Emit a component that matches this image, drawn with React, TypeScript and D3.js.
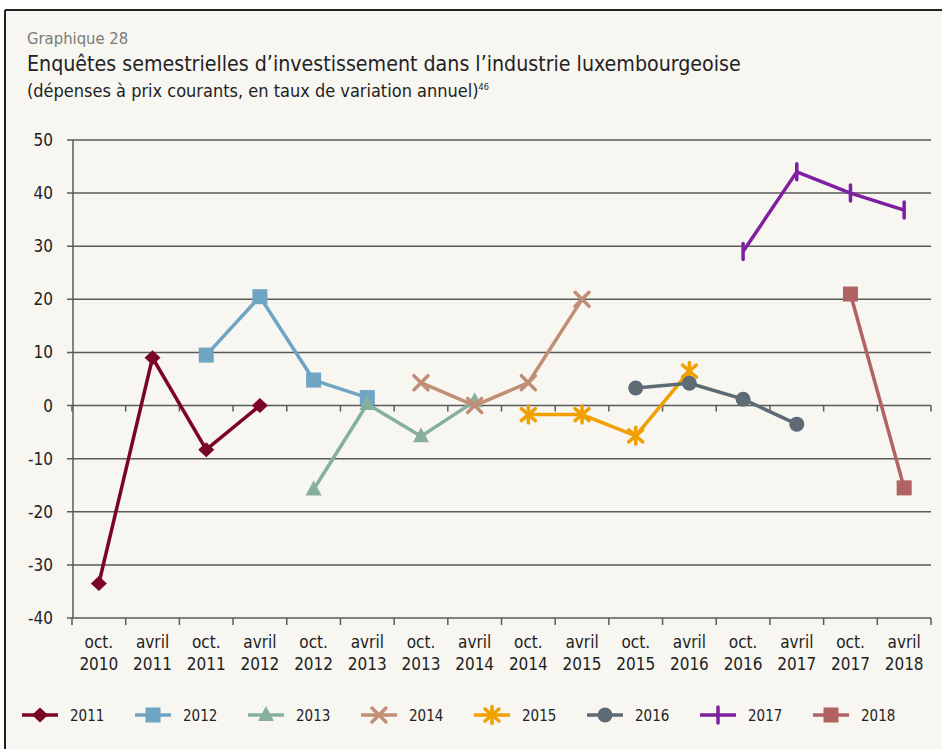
import * as d3 from "d3";
import React from "react";

const periods = [
  "oct.|2010", "avril|2011", "oct.|2011", "avril|2012", "oct.|2012", "avril|2013",
  "oct.|2013", "avril|2014", "oct.|2014", "avril|2015", "oct.|2015", "avril|2016",
  "oct.|2016", "avril|2017", "oct.|2017", "avril|2018",
];
const yTicks = [50, 40, 30, 20, 10, 0, -10, -20, -30, -40];

// each survey year: first period index + values
const s2011 = [-33.5, 9, -8.3, 0];
const s2012 = [9.5, 20.5, 4.8, 1.5];
const s2013 = [-15.8, 0.3, -5.8, 0.8];
const s2014 = [4.3, 0, 4.3, 20];
const s2015 = [-1.7, -1.7, -5.7, 6.5];
const s2016 = [3.3, 4.2, 1.2, -3.5];
const s2017 = [29, 44, 40, 36.8];
const s2018 = [21, -15.5];

const series = [
  { name: "2011", start: 0, values: s2011, color: "#7b0524", shape: "diamond" },
  { name: "2012", start: 2, values: s2012, color: "#6fa4c3", shape: "square" },
  { name: "2013", start: 4, values: s2013, color: "#86b09c", shape: "triangle" },
  { name: "2014", start: 6, values: s2014, color: "#c18f76", shape: "x" },
  { name: "2015", start: 8, values: s2015, color: "#f0a000", shape: "star" },
  { name: "2016", start: 10, values: s2016, color: "#5f6b74", shape: "circle" },
  { name: "2017", start: 12, values: s2017, color: "#7e1ea0", shape: "bar" },
  { name: "2018", start: 14, values: s2018, color: "#b16263", shape: "square" },
];

const FONT = "'Liberation Sans Narrow', 'DejaVu Sans Condensed', sans-serif";

function Marker({ shape, color, x, y }: { shape: string; color: string; x: number; y: number }) {
  const t = `translate(${x},${y})`;
  if (shape === "diamond")
    return <path transform={t} d="M0,-7.5L8,0L0,7.5L-8,0Z" fill={color} />;
  if (shape === "square")
    return <rect x={x - 7.5} y={y - 7.5} width={15} height={15} fill={color} />;
  if (shape === "triangle")
    return <path transform={t} d="M0,-9L8,6L-8,6Z" fill={color} />;
  if (shape === "circle")
    return <circle cx={x} cy={y} r={7.5} fill={color} />;
  if (shape === "x")
    return <path transform={t} d="M-7,-7L7,7M7,-7L-7,7" stroke={color} strokeWidth={3.5} strokeLinecap="round" />;
  if (shape === "star")
    return <path transform={t} d="M-7,-6L7,6M7,-6L-7,6M0,-8.5L0,8.5" stroke={color} strokeWidth={3.5} strokeLinecap="round" fill="none" />;
  if (shape === "bar")
    return <path transform={t} d="M0,-8L0,8" stroke={color} strokeWidth={3.5} strokeLinecap="round" />;
  return null;
}

export default function App() {
  const W = 942, H = 749;
  const x = d3.scaleBand<string>().domain(periods).range([72, 931]);
  const y = d3.scaleLinear().domain([-40, 50]).range([618, 140]);
  const line = d3.line<[number, number]>().x(d => d[0]).y(d => d[1]);
  const cx = (i: number) => (x(periods[i]) as number) + x.bandwidth() / 2;

  return (
    <svg width={W} height={H} style={{ position: "absolute", left: 0, top: 0, fontFamily: FONT }}>
      <rect width={W} height={H} fill="#ffffff" />
      <rect x={5} y={10} width={W} height={H} fill="#f7f6f1" />
      <line x1={5} y1={10} x2={W} y2={10} stroke="#222" strokeWidth={2} />
      <line x1={5} y1={10} x2={5} y2={H} stroke="#222" strokeWidth={2} />

      <text x={27} y={44} fontSize={16.5} fill="#7a7a7a">Graphique 28</text>
      <text x={27} y={71} fontSize={21.2} fill="#222">Enquêtes semestrielles d’investissement dans l’industrie luxembourgeoise</text>
      <text x={27} y={97} fontSize={18} fill="#222">
        (dépenses à prix courants, en taux de variation annuel)
        <tspan fontSize={9} dy={-7}>46</tspan>
      </text>

      {/* grid */}
      {yTicks.map(v => (
        <g key={v}>
          <line x1={67} x2={931} y1={y(v)} y2={y(v)} stroke="#5a5a5a" strokeWidth={1.5} />
          <text x={53} y={y(v) + 6} textAnchor="end" fontSize={17} fill="#222">
            {v < 0 ? "-" + Math.abs(v) : v}
          </text>
        </g>
      ))}
      <line x1={73} x2={73} y1={140} y2={618} stroke="#5a5a5a" strokeWidth={1.5} />

      {/* category ticks on zero line and bottom */}
      {d3.range(periods.length + 1).map(i => {
        const xx = 72 + i * x.bandwidth();
        return (
          <g key={i}>
            <line x1={xx} x2={xx} y1={y(0)} y2={y(0) + 6} stroke="#5a5a5a" strokeWidth={1.5} />
            <line x1={xx} x2={xx} y1={y(-40)} y2={y(-40) + 7} stroke="#5a5a5a" strokeWidth={1.5} />
          </g>
        );
      })}
      {periods.map((p, i) => {
        const [a, b] = p.split("|");
        return (
          <g key={p}>
            <text x={cx(i)} y={648} textAnchor="middle" fontSize={17} fill="#222">{a}</text>
            <text x={cx(i)} y={670} textAnchor="middle" fontSize={17} fill="#222">{b}</text>
          </g>
        );
      })}

      {/* series */}
      {series.map(s => {
        const pts = s.values.map((v, j) => [cx(s.start + j), y(v)] as [number, number]);
        return (
          <g key={s.name}>
            <path d={line(pts) as string} fill="none" stroke={s.color} strokeWidth={3.5} strokeLinejoin="round" />
            {pts.map((p, j) => (
              <Marker key={j} shape={s.shape} color={s.color} x={p[0]} y={p[1]} />
            ))}
          </g>
        );
      })}

      {/* legend */}
      {series.map((s, i) => {
        const lx = 22 + i * 113;
        return (
          <g key={s.name}>
            <line x1={lx} x2={lx + 36} y1={715} y2={715} stroke={s.color} strokeWidth={3.5} />
            <Marker shape={s.shape} color={s.color} x={lx + 18} y={715} />
            <text x={lx + 48} y={721} fontSize={15} fill="#222">{s.name}</text>
          </g>
        );
      })}
    </svg>
  );
}
